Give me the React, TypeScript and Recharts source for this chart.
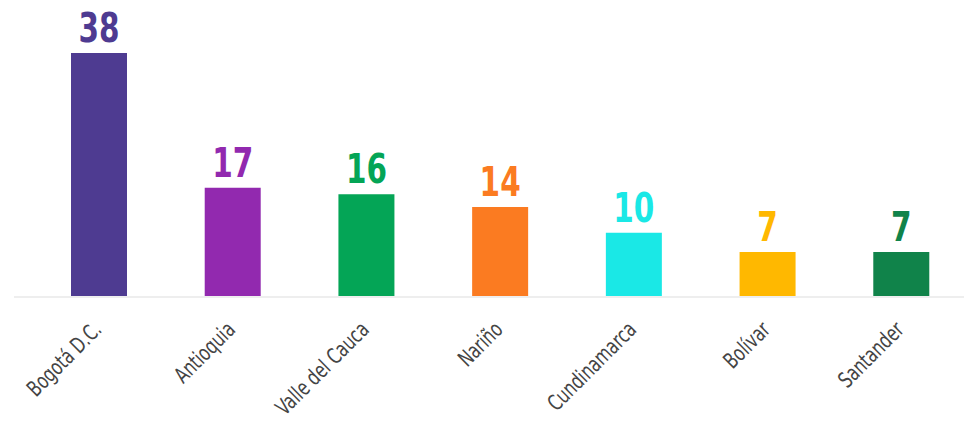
import { BarChart, Bar, XAxis, YAxis, Cell, LabelList } from 'recharts';

// Departamentos con más casos (conteo)
const departments = ['Bogotá D.C.', 'Antioquia', 'Valle del Cauca', 'Nariño', 'Cundinamarca', 'Bolívar', 'Santander'];
const counts = [38, 17, 16, 14, 10, 7, 7];
const colors = ['#4e3b91', '#9229af', '#04a556', '#fb7b21', '#1ae8e6', '#ffb800', '#10834a'];

const data = departments.map((name, i) => ({ name, value: counts[i] }));

const FONT = "'DejaVu Sans Condensed', 'Liberation Sans Narrow', sans-serif";

function DeptTick({ x, y, payload }: any) {
  return (
    <g transform={`translate(${x + 4},${y + 26})`}>
      <text textAnchor="end" transform="rotate(-45) scale(0.8,1)" fill="#444444" fontSize={22} fontFamily={FONT}>
        {payload.value}
      </text>
    </g>
  );
}

function ValueLabel({ x, y, width, value, index }: any) {
  const cx = x + width / 2;
  return (
    <g transform={`translate(${cx},${y - 11})`}>
      <text
        textAnchor="middle"
        transform="scale(0.82,1)"
        fill={colors[index]}
        fontSize={40}
        fontWeight={700}
        fontFamily={FONT}
      >
        {value}
      </text>
    </g>
  );
}

export default function App() {
  return (
    <div style={{ margin: -8, background: '#fff' }}>
      <BarChart width={972} height={422} data={data} margin={{ top: 53, right: 0, bottom: 0, left: 14 }}>
        <XAxis
          dataKey="name"
          interval={0}
          tickLine={false}
          axisLine={{ stroke: '#eeeeee', strokeWidth: 2 }}
          padding={{ left: 18, right: 4 }}
          tick={<DeptTick />}
          height={125}
        />
        <YAxis hide domain={[0, 38]} />
        <Bar dataKey="value" barSize={56} isAnimationActive={false}>
          {data.map((d, i) => (
            <Cell key={d.name} fill={colors[i]} />
          ))}
          <LabelList dataKey="value" content={<ValueLabel />} />
        </Bar>
      </BarChart>
    </div>
  );
}
